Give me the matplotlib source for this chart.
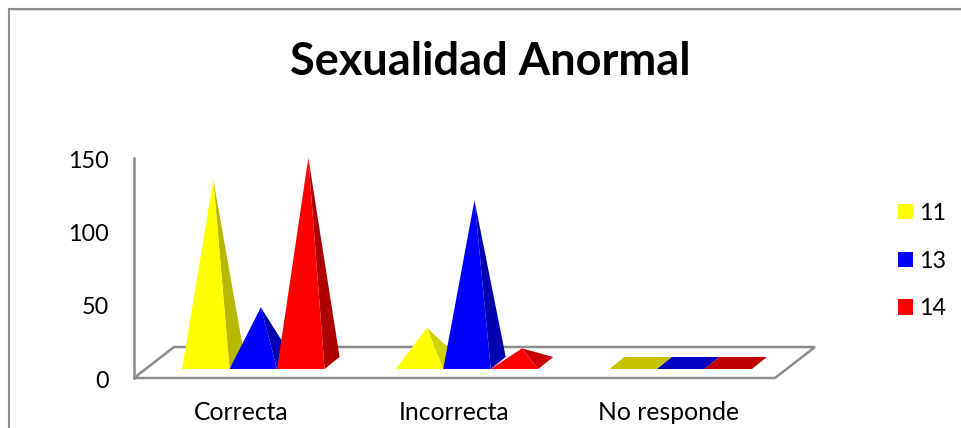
# Sexualidad Anormal - pyramid chart with fake 3d floor

import matplotlib
matplotlib.use("Agg")
import matplotlib.pyplot as plt
from matplotlib.patches import Patch, Polygon
from matplotlib.lines import Line2D
from matplotlib.transforms import ScaledTranslation

plt.rcParams['font.family'] = ['Lato', 'DejaVu Sans']

# Data
categories = ["Correcta", "Incorrecta", "No responde"]
series_names = ["11", "13", "14"]
values_11 = [125, 24, 0]
values_13 = [38, 111, 0]
values_14 = [140, 10, 0]
y_ticks = [0, 50, 100, 150]

colors = ["#ffff00", "#0000ff", "#ff0000"]
dark_colors = ["#b8b800", "#0000b0", "#ad0000"]
flat_colors = ["#c4c400", "#0000c0", "#c00000"]
small_dark = {(0, 1): "#d2d200", (2, 1): "#cc0000"}
GREY = "#8c8c8c"

W, H = 961, 428
fig = plt.figure(figsize=(W / 100, H / 100), dpi=100)
fig.patch.set_facecolor("white")

# front plane of the floor: x 134..775 px, y 378 (0) .. 158 (150) px
ax = fig.add_axes([134 / W, 1 - 378 / H, 641 / W, 220 / H])
ax.set_xlim(-0.5, 2.5)
ax.set_ylim(0, 150)
ax.patch.set_alpha(0)

px_x = 3 / 641  # one pixel in data units
px_y = 150 / 220

# floor
floor_dx, floor_dy = 40 * px_x, 31 * px_y
floor = Polygon([(-0.5, 0), (2.5, 0), (2.5 + floor_dx, floor_dy), (-0.5 + floor_dx, floor_dy)],
                closed=True, facecolor="white", edgecolor=GREY, linewidth=1.8, clip_on=False, zorder=1)
ax.add_patch(floor)

# pyramids
bar_w = 47.5 * px_x
depth_x, depth_y = 15 * px_x, 12 * px_y
shift_x, shift_y = 12.5 * px_x, 9 * px_y

all_values = [values_11, values_13, values_14]
for c in range(len(categories)):
    for s, vals in enumerate(all_values):
        v = vals[c]
        x0 = c + shift_x + (s - 1.5) * bar_w
        x1 = x0 + bar_w
        y0 = shift_y
        apex = (x0 + bar_w / 2 + depth_x / 2, y0 + depth_y / 2 + v)
        if v == 0:
            base = [(x0, y0), (x1, y0), (x1 + depth_x, y0 + depth_y), (x0 + depth_x, y0 + depth_y)]
            ax.add_patch(Polygon(base, closed=True, facecolor=flat_colors[s], edgecolor="none",
                                 clip_on=False, zorder=3))
            continue
        side = small_dark.get((s, c), dark_colors[s])
        ax.add_patch(Polygon([(x1, y0), (x1 + depth_x, y0 + depth_y), apex], closed=True,
                             facecolor=side, edgecolor="none", clip_on=False, zorder=3))
        ax.add_patch(Polygon([(x0, y0), (x1, y0), apex], closed=True,
                             facecolor=colors[s], edgecolor="none", clip_on=False, zorder=3))

# axes
for name in ["top", "right", "bottom"]:
    ax.spines[name].set_visible(False)
ax.spines["left"].set_color(GREY)
ax.spines["left"].set_linewidth(1.8)
ax.set_xticks(range(len(categories)))
ax.set_xticklabels(categories, fontsize=17.8)
ax.set_yticks(y_ticks)
ax.tick_params(axis="x", length=0, pad=16.5)
ax.tick_params(axis="y", length=0, pad=18, labelsize=16.8)
# labels sit a little lower than the ticks in the original
down = ScaledTranslation(0, -1 / 100, fig.dpi_scale_trans)
for lab in ax.get_yticklabels():
    lab.set_transform(lab.get_transform() + down)

# title
fig.text(490 / W, 1 - 62 / H, "Sexualidad Anormal", fontsize=32.5, fontweight="bold",
         ha="center", va="center")

# legend
handles = [Patch(facecolor=c, edgecolor="none") for c in colors]
fig.legend(handles, series_names, loc="center left", bbox_to_anchor=(897.5 / W, 1 - 261 / H),
           frameon=False, fontsize=16.8, handlelength=0.644, handleheight=0.644,
           handletextpad=0.3, labelspacing=1.15, borderpad=0, borderaxespad=0)

# chart border (top and left, picture is cropped elsewhere)
fig.add_artist(Line2D([9 / W, 9 / W], [0, 1 - 9 / H], color=GREY, linewidth=1.5))
fig.add_artist(Line2D([9 / W, 1], [1 - 8.5 / H, 1 - 8.5 / H], color=GREY, linewidth=1.5))
fig.add_artist(Line2D([10.5 / W, 1], [1 - 10 / H, 1 - 10 / H], color="#d8d8d8", linewidth=0.8))

fig.savefig("out.png", dpi=100)
